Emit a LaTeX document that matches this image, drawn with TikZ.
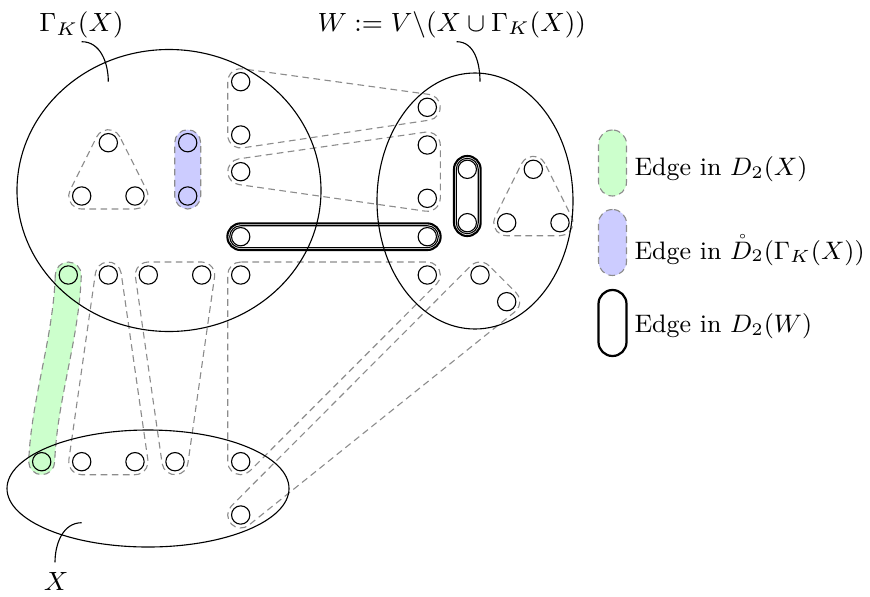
\RequirePackage{fix-cm}
\documentclass[tikz,border=0pt]{standalone}
\usepackage{amsmath}
\usetikzlibrary{calc,shapes.geometric}
\pgfdeclarelayer{bg}
\pgfsetlayers{bg,main}

% padding of a hyperedge outline around its vertices
\newcommand\hullR{4.68pt}

% rounded outline around two vertices: style, radius, a, b
\newcommand\pillpath[4]{%
  \draw[#1] let \p1=(#3.center), \p2=(#4.center),
      \n1={atan2(\y2-(\y1),\x2-(\x1))} in
    ($(\p1)+(\n1+90:#2)$) arc[start angle=\n1+90, delta angle=180, radius=#2]
    -- ($(\p2)+(\n1-90:#2)$) arc[start angle=\n1-90, delta angle=180, radius=#2]
    -- cycle;}

% rounded outline around three vertices given counter-clockwise: style, a, b, c
\newcommand\tripath[4]{%
  \draw[#1] let \p1=(#2.center), \p2=(#3.center), \p3=(#4.center),
      \n1={atan2(\y2-(\y1),\x2-(\x1))},
      \n2={atan2(\y3-(\y2),\x3-(\x2))},
      \n3={atan2(\y1-(\y3),\x1-(\x3))} in
    ($(\p1)+(\n3-90:\hullR)$) arc[start angle=\n3-90, delta angle={mod(\n1-(\n3)+720,360)}, radius=\hullR]
    -- ($(\p2)+(\n1-90:\hullR)$) arc[start angle=\n1-90, delta angle={mod(\n2-(\n1)+720,360)}, radius=\hullR]
    -- ($(\p3)+(\n2-90:\hullR)$) arc[start angle=\n2-90, delta angle={mod(\n3-(\n2)+720,360)}, radius=\hullR]
    -- cycle;}

\definecolor{edgegreen}{RGB}{204,255,204}
\definecolor{edgeblue}{RGB}{204,204,255}
\definecolor{hullgray}{RGB}{140,140,140}

\begin{document}
\begin{tikzpicture}[x=0.36pt,y=-0.36pt,
  vtx/.style={circle, draw, minimum size=6.6pt, inner sep=0pt},
  setshape/.style={draw, ellipse, inner sep=0pt},
  hull/.style={draw=hullgray, dash pattern=on 2.4pt off 1.6pt, line width=0.4pt},
  wedge/.style={draw=black, line width=0.75pt},
  wedgein/.style={draw=black, line width=0.4pt},
  lbl/.style={font=\fontsize{9.5}{11}\selectfont, inner sep=0pt},
  leglbl/.style={font=\fontsize{9.1}{11}\selectfont, inner sep=0pt, anchor=base west},
  legpill/.style={rectangle, rounded corners=5.04pt, minimum width=10.08pt,
                  minimum height=23.76pt, inner sep=0pt}]
\useasboundingbox (0,0) rectangle (870,596);

% the three vertex sets
\node[setshape, minimum width=109.44pt, minimum height=101.52pt] (GK) at (169,190.5) {};
\node[setshape, minimum width=70.56pt, minimum height=92.16pt] (Wset) at (475,201) {};
\node[setshape, minimum width=101.52pt, minimum height=42.12pt] (Xset) at (148,488.5) {};

% vertices of Gamma_K(X)
\node[vtx] (a1) at (108.3,142.7) {};
\node[vtx] (a2) at (81.7,196) {};
\node[vtx] (a3) at (135,196) {};
\node[vtx] (b1) at (187.7,142.7) {};
\node[vtx] (b2) at (187.7,196) {};
\node[vtx] (c1) at (240.7,81.7) {};
\node[vtx] (c2) at (240.7,135) {};
\node[vtx] (c3) at (240.7,171.7) {};
\node[vtx] (c4) at (240.7,236.7) {};
\node[vtx] (d1) at (68.3,275) {};
\node[vtx] (d2) at (108.3,275) {};
\node[vtx] (d3) at (148.3,275) {};
\node[vtx] (d4) at (201.7,275) {};
\node[vtx] (d5) at (240.7,275) {};

% vertices of W
\node[vtx] (w1) at (427.3,107.3) {};
\node[vtx] (w2) at (427.3,145) {};
\node[vtx] (w3) at (427.3,198.3) {};
\node[vtx] (w4) at (427.3,236.7) {};
\node[vtx] (w5) at (427.3,275) {};
\node[vtx] (w6) at (467.3,169.3) {};
\node[vtx] (w7) at (467.3,222.7) {};
\node[vtx] (w8) at (533.3,169.3) {};
\node[vtx] (w9) at (506.7,222.7) {};
\node[vtx] (w10) at (560,222.7) {};
\node[vtx] (w11) at (480,275) {};
\node[vtx] (w12) at (506.7,301.7) {};

% vertices of X
\node[vtx] (x1) at (41.7,461.7) {};
\node[vtx] (x2) at (81.7,461.7) {};
\node[vtx] (x3) at (135,461.7) {};
\node[vtx] (x4) at (175,461.7) {};
\node[vtx] (x5) at (240.7,461.7) {};
\node[vtx] (x6) at (240.7,515) {};

% hyperedges, kept behind the vertices
\begin{pgfonlayer}{bg}
  % edge of D_2(X)
  \draw[edgegreen, line width=9.36pt, line cap=round]
    (d1.center) .. controls (66,340) and (44,400) .. (x1.center);
  \draw[hull] ($(d1.center)+(-13,0)$) .. controls (53,340) and (31,400) .. ($(x1.center)+(-13,0)$)
    arc[start angle=180, end angle=360, radius=\hullR]
    .. controls (57,400) and (79,340) .. ($(d1.center)+(13,0)$)
    arc[start angle=0, end angle=180, radius=\hullR] -- cycle;
  % edge of the interior of D_2(Gamma_K(X))
  \pillpath{hull, fill=edgeblue}{\hullR}{b1}{b2}
  % remaining dashed hyperedges
  \tripath{hull}{a1}{a2}{a3}
  \tripath{hull}{c1}{c2}{w1}
  \tripath{hull}{c3}{w3}{w2}
  \tripath{hull}{w8}{w9}{w10}
  \tripath{hull}{d5}{x5}{w5}
  \tripath{hull}{w11}{x6}{w12}
  \tripath{hull}{d2}{x2}{x3}
  \tripath{hull}{d3}{x4}{d4}
\end{pgfonlayer}

% edges of D_2(W)
\pillpath{wedge}{4.8pt}{c4}{w4}
\pillpath{wedgein}{3.95pt}{c4}{w4}
\pillpath{wedge}{4.8pt}{w6}{w7}
\pillpath{wedgein}{3.95pt}{w6}{w7}

% set labels with their pointers
\node[lbl, anchor=base] (tG) at (81.5,31.7) {$\Gamma_K(X)$};
\node[lbl, anchor=base] (tW) at (451.7,31) {$W := V\backslash(X\cup\Gamma_K(X))$};
\node[lbl, anchor=base] (tX) at (56,590.7) {$X$};
\coordinate (pG0) at (81.7,41.7);
\coordinate (pG1) at (108.3,81.7);
\coordinate (pW0) at (456.7,41.7);
\coordinate (pW1) at (480,81.7);
\coordinate (pX0) at (81.7,522.7);
\coordinate (pX1) at (55,562.3);
\draw (pG0) to[out=0, in=90] (pG1);
\draw (pW0) to[out=0, in=90] (pW1);
\draw (pX0) to[out=180, in=90] (pX1);

% legend
\node[legpill, hull, fill=edgegreen] (lg1) at (612.5,163) {};
\node[legpill, hull, fill=edgeblue] (lg2) at (612.5,242.5) {};
\node[legpill, draw, line width=0.8pt] (lg3) at (612.5,323) {};
\node[leglbl] (lt1) at (634,175.7) {Edge in $D_2(X)$};
\node[leglbl] (lt2) at (634,259) {Edge in $\mathring{D}_2(\Gamma_K(X))$};
\node[leglbl] (lt3) at (634,332.7) {Edge in $D_2(W)$};
\end{tikzpicture}
\end{document}
